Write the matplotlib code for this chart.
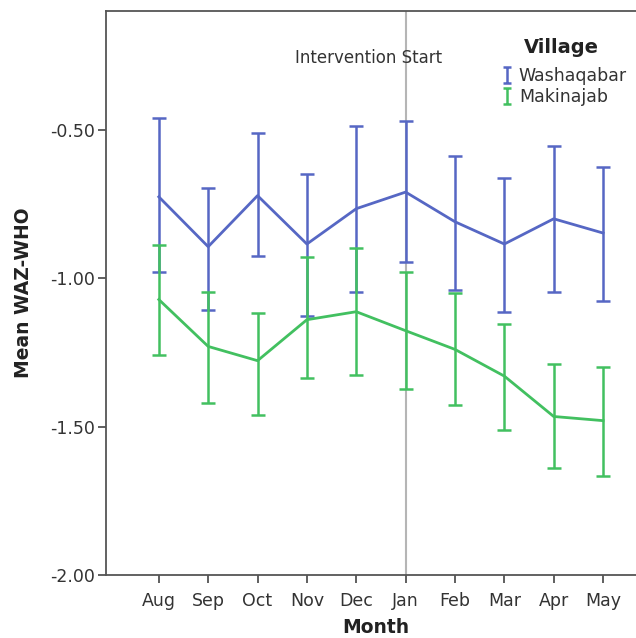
import matplotlib
matplotlib.use("Agg")
import matplotlib.pyplot as plt
from matplotlib.path import Path
from matplotlib.lines import Line2D

months = ["Aug", "Sep", "Oct", "Nov", "Dec", "Jan", "Feb", "Mar", "Apr", "May"]

# Washaqabar: mean and 95% CI bounds
wash_mean = [-0.726, -0.894, -0.722, -0.885, -0.766, -0.710, -0.810, -0.885, -0.800, -0.848]
wash_hi = [-0.460, -0.695, -0.510, -0.650, -0.487, -0.470, -0.587, -0.663, -0.556, -0.627]
wash_lo = [-0.980, -1.106, -0.924, -1.126, -1.046, -0.947, -1.040, -1.115, -1.046, -1.076]

# Makinajab
maki_mean = [-1.072, -1.230, -1.278, -1.140, -1.113, -1.177, -1.240, -1.330, -1.466, -1.480]
maki_hi = [-0.887, -1.045, -1.117, -0.930, -0.900, -0.980, -1.050, -1.153, -1.290, -1.298]
maki_lo = [-1.258, -1.420, -1.460, -1.335, -1.325, -1.372, -1.426, -1.510, -1.638, -1.668]

blue = "#5667c4"
green = "#42c060"

plt.rcParams['font.family'] = ['DejaVu Sans']

fig = plt.figure(figsize=(6.36, 6.38), dpi=100)
ax = fig.add_axes([106 / 636, 1 - 575 / 638, 540 / 636, 564 / 638])

x = list(range(len(months)))

ax.axvline(months.index("Jan"), color="#b5b5b5", lw=1.5, zorder=1)

for mean, lo, hi, col in [(wash_mean, wash_lo, wash_hi, blue),
                          (maki_mean, maki_lo, maki_hi, green)]:
    err = [[m - l for m, l in zip(mean, lo)], [h - m for m, h in zip(mean, hi)]]
    ax.errorbar(x, mean, yerr=err, color=col, lw=2, elinewidth=1.8,
                capsize=5, capthick=1.8, zorder=3)

ax.set_xlim(-1.07, 9.87)
ax.set_ylim(-2.0, -0.1)
ax.set_xticks(x)
ax.set_xticklabels(months)
ax.set_yticks([-2.0, -1.5, -1.0, -0.5])
ax.set_yticklabels(["-2.00", "-1.50", "-1.00", "-0.50"])
ax.tick_params(axis="both", direction="out", length=6, width=1.2,
               labelsize=12.5, colors="#444444", labelcolor="#333333")
ax.tick_params(axis="x", pad=6)
ax.tick_params(axis="y", pad=2)

for s in ["left", "bottom", "top"]:
    ax.spines[s].set_color("#555555")
    ax.spines[s].set_linewidth(1.3)
ax.spines["right"].set_visible(False)

ax.set_ylabel("Mean WAZ-WHO", fontsize=13.5, fontweight="bold", color="#222222", labelpad=12)
ax.set_xlabel("Month", fontsize=13.5, fontweight="bold", color="#222222", labelpad=6)

ax.text(months.index("Jan") - 0.76, -0.258, "Intervention Start", ha="center",
        va="center", fontsize=12, color="#333333", zorder=2)

# legend title drawn on its own so the gap to the entries can match
ax.text(0.844, 0.936, "Village", transform=ax.transAxes, ha="center", va="center",
        fontsize=14, fontweight="bold", color="#222222")

# I-beam legend marker
ibeam = Path([(-0.5, 1), (0.5, 1), (0, 1), (0, -1), (-0.5, -1), (0.5, -1)],
             [Path.MOVETO, Path.LINETO, Path.MOVETO, Path.LINETO, Path.MOVETO, Path.LINETO])
handles = [Line2D([], [], marker=ibeam, linestyle="None", color=blue, markersize=12, markeredgewidth=1.8),
           Line2D([], [], marker=ibeam, linestyle="None", color=green, markersize=12, markeredgewidth=1.8)]
leg = ax.legend(handles, ["Washaqabar", "Makinajab"], loc="upper left",
                bbox_to_anchor=(0.71, 0.923), frameon=False, fontsize=12.5,
                handlelength=0.6, handletextpad=0.4, labelspacing=0.2, borderpad=0.2)
for t in leg.get_texts():
    t.set_color("#333333")

fig.savefig("out.png", dpi=100)
